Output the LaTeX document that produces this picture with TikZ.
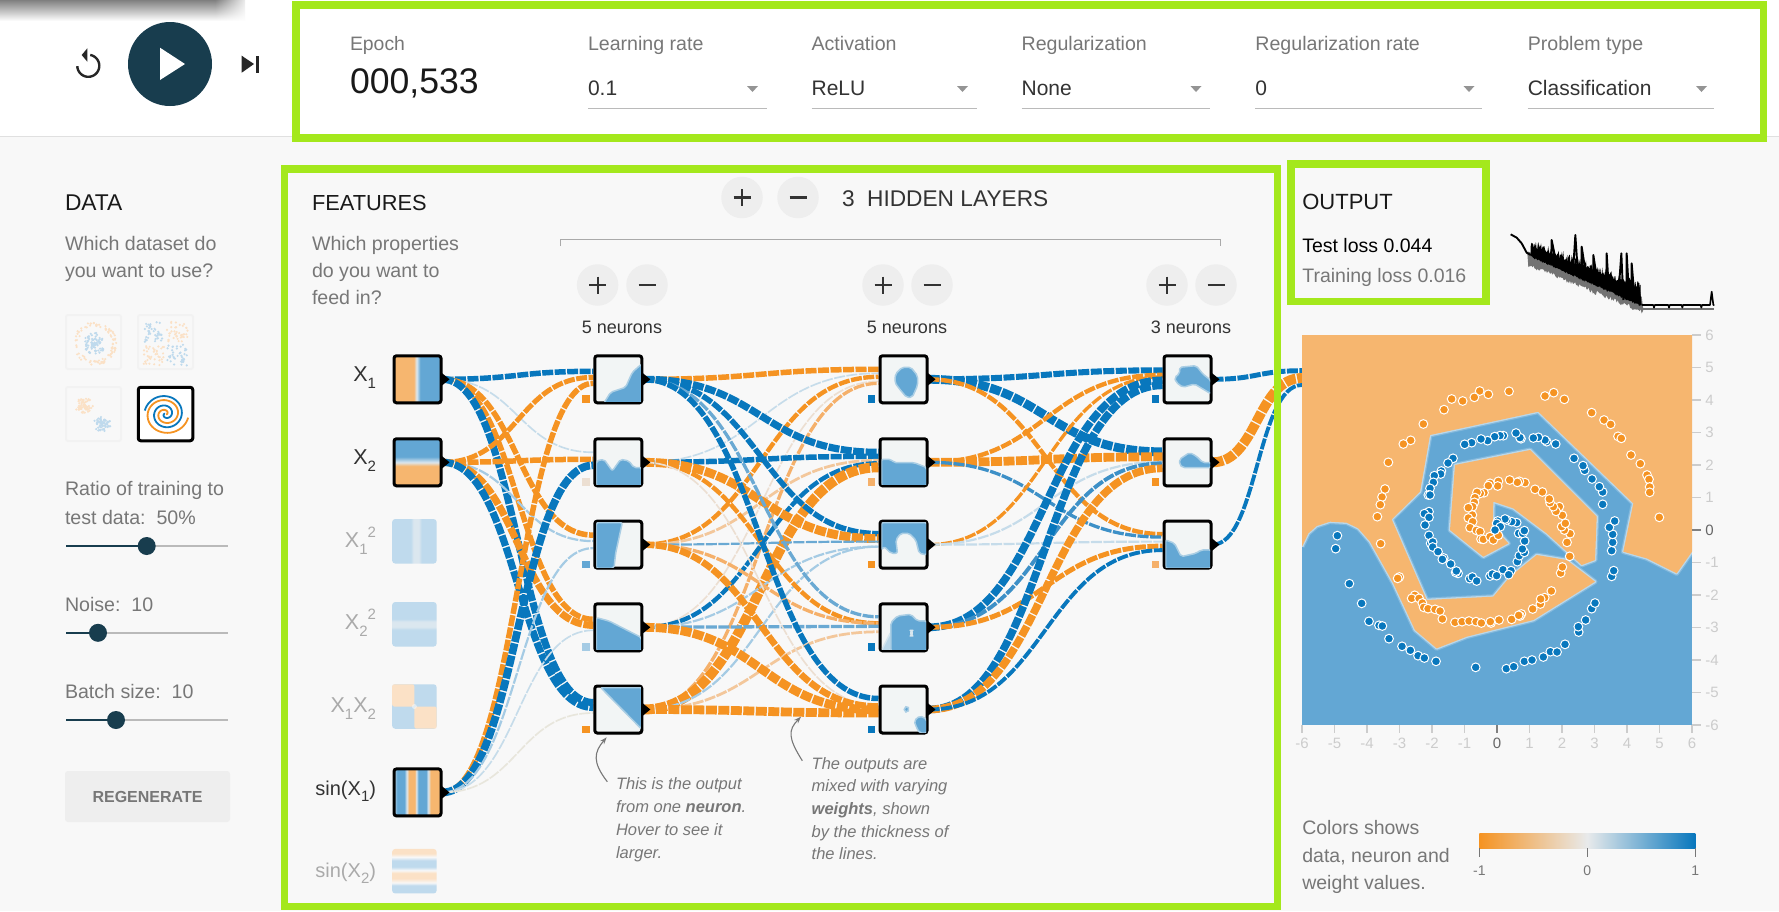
\documentclass[tikz,border=0pt]{standalone}
\usepackage{fontspec}
\setmainfont{Liberation Sans}
\usetikzlibrary{calc,arrows.meta,shadows,fadings}
\definecolor{cB}{HTML}{0877BD}
\definecolor{cO}{HTML}{F59322}
\definecolor{pB1}{HTML}{C6DCEA}
\definecolor{pB2}{HTML}{A5CBE4}
\definecolor{pB3}{HTML}{6AA9D3}
\definecolor{pB4}{HTML}{3D90C7}
\definecolor{pO1}{HTML}{ECDFD2}
\definecolor{pO2}{HTML}{F3C79B}
\definecolor{pO3}{HTML}{F5B06A}
\definecolor{pG}{HTML}{E8E6DC}
\definecolor{hblue}{HTML}{63A7D4}
\definecolor{horange}{HTML}{F6B66F}
\definecolor{nfill}{HTML}{F2F5F5}
\definecolor{lb}{HTML}{BFDAED}
\definecolor{lband}{HTML}{DBE7EF}
\definecolor{peach}{HTML}{FBE1C6}
\definecolor{tgray}{HTML}{777777}
\definecolor{tdark}{HTML}{333333}
\definecolor{tfaint}{HTML}{AAAAAA}
\definecolor{navy}{HTML}{183D4E}
\definecolor{lime}{HTML}{A4E81C}
\definecolor{page}{HTML}{F8F8F8}
\definecolor{btn}{HTML}{EEEEEE}
\definecolor{axisc}{HTML}{CCCCCC}
\definecolor{legmid}{HTML}{E8EAEB}
\pgfdeclarehorizontalshading{shXa}{100bp}{color(0bp)=(horange);color(25bp)=(horange);color(46bp)=(horange);color(49bp)=(lband);color(53bp)=(hblue);color(75bp)=(hblue);color(100bp)=(hblue)}
\pgfdeclareverticalshading{shXb}{100bp}{color(0bp)=(horange);color(25bp)=(horange);color(46bp)=(horange);color(50bp)=(lband);color(56bp)=(hblue);color(75bp)=(hblue);color(100bp)=(hblue)}
\pgfdeclarehorizontalshading{shXc}{100bp}{color(0bp)=(lb);color(25bp)=(lb);color(46bp)=(lb);color(49bp)=(lband);color(55bp)=(lband);color(58bp)=(lb);color(75bp)=(lb);color(100bp)=(lb)}
\pgfdeclareverticalshading{shXd}{100bp}{color(0bp)=(lb);color(25bp)=(lb);color(44bp)=(lb);color(47bp)=(lband);color(53bp)=(lband);color(56bp)=(lb);color(75bp)=(lb);color(100bp)=(lb)}
\pgfdeclarehorizontalshading{shSa}{100bp}{color(0bp)=(lb);color(25bp)=(lb);color(28.5bp)=(hblue);color(36bp)=(hblue);color(38.5bp)=(lband);color(41bp)=(horange);color(47bp)=(horange);color(48.8bp)=(lband);color(51bp)=(hblue);color(59bp)=(hblue);color(61.5bp)=(lband);color(64bp)=(horange);color(75bp)=(horange);color(100bp)=(horange)}
\pgfdeclareverticalshading{shSb}{100bp}{color(0bp)=(lb);color(25bp)=(lb);color(34bp)=(lb);color(37bp)=(page);color(42bp)=(peach);color(48bp)=(peach);color(51bp)=(page);color(55bp)=(lb);color(62bp)=(lb);color(66bp)=(page);color(70bp)=(peach);color(75bp)=(peach);color(100bp)=(peach)}
\pgfdeclarelayer{base}
\pgfdeclarelayer{links}
\pgfsetlayers{base,links,main}
\newcounter{tn}
\newcommand{\tx}[6]{\stepcounter{tn}\node[inner sep=0pt,outer sep=0pt,anchor=#1,text=#5,font=\fontsize{#4}{#4}\selectfont] (t\arabic{tn}) at (#2,{#3+0.36*#4}) {#6};}
\newcommand{\sbx}[1]{\raisebox{-.32em}{\fontsize{15}{15}\selectfont #1}}
\newcommand{\spx}[1]{\raisebox{.5em}{\fontsize{15}{15}\selectfont #1}}
\newcommand{\lnk}[5]{%
  \coordinate (A) at (#1.east);
  \coordinate (B) at ($(#2.west)+(0,#3)$);
  \draw[linkline,color=#4,line width={#5*1.1pt}] (#1.east) .. controls ($(A)!.5!(A-|B)$) and ($(B)!.5!(B-|A)$) .. (B);}
\newcommand{\heat}[3][hblue]{\begin{scope}[shift={($(#2.north west)+(3,3)$)},x=.33333pt,y=-.33333pt]
  \clip (0,0) rectangle (134,134);
  \fill[#1,draw=#1!50!nfill,line width=1.5pt,line join=round,rounded corners=2pt] #3 -- cycle;
  \end{scope}}
\newcommand{\outtip}[1]{\fill[black] ($(#1.east)+(-1.5,-7)$) -- ($(#1.east)+(7,0)$) -- ($(#1.east)+(-1.5,7)$) -- cycle;}
\newcommand{\biasq}[2]{\fill[#2] ($(#1.south west)+(-11,-9)$) rectangle ++(7.7,7.7);}
\newcommand{\dd}[5]{%
  \tx{base west}{#1}{43}{19.6}{tgray}{#4}
  \tx{base west}{#1}{88}{21}{tdark}{#5}
  \draw[ddline] (#1,108) -- (#2,108);
  \fill[ddtri] ({#3-5.5},86) -- ({#3+5.5},86) -- (#3,92) -- cycle;}
\newcommand{\roundbtn}[3]{\node[roundb] (#3) at (#1,#2) {};}
\newcommand{\plusb}[3]{\roundbtn{#1}{#2}{#3}\draw[glyph] ({#1-8.5},#2) -- ({#1+8.5},#2) (#1,{#2-8.5}) -- (#1,{#2+8.5});}
\newcommand{\minusb}[3]{\roundbtn{#1}{#2}{#3}\draw[glyph] ({#1-8.5},#2) -- ({#1+8.5},#2);}
\newcommand{\slider}[4]{\draw[line width=2.5pt,color=black!27] (66,#1) -- (228,#1);
  \draw[line width=2.5pt,color=navy] (66,#1) -- (#2,#1);
  \node[knob] (#4) at (#2,#1) {};}
\tikzset{
  linkline/.style={dash pattern=on 11pt off 1.5pt},
  ddline/.style={color=black!27,line width=1pt},
  ddtri/.style={fill=black!42},
  roundb/.style={circle,fill=btn,minimum size=41.5pt,inner sep=0pt},
  glyph/.style={line width=2.2pt,color=tdark},
  knob/.style={circle,fill=navy,minimum size=18pt,inner sep=0pt},
  greenbox/.style={draw=lime,line width=7.6pt},
  nbox/.style={rectangle,draw=black,line width=3pt,rounded corners=2.5pt,minimum size=47pt,inner sep=0pt,outer sep=1.5pt,fill=nfill,drop shadow={opacity=.18,shadow xshift=0pt,shadow yshift=-2pt}},
  fbox/.style={rectangle,rounded corners=3pt,minimum size=44.5pt,inner sep=0pt,outer sep=0pt},
  thumb/.style={rectangle,draw=black!5,line width=2pt,rounded corners=2pt,minimum width=55pt,minimum height=54pt,inner sep=0pt,fill=page},
  dotO/.style={fill=cO,draw=white,line width=1pt},
  dotB/.style={fill=cB,draw=white,line width=1pt},
  noteline/.style={color=tgray,line width=1.1pt,-{Stealth[length=7pt,width=5pt]}},
}
\begin{document}
\begin{tikzpicture}[x=1pt,y=-1pt]
\useasboundingbox (0,0) rectangle (1779,911);
\begin{pgfonlayer}{base}
\fill[page] (0,0) rectangle (1779,911);
\fill[white] (0,0) rectangle (1779,136);
\draw[color=black!12,line width=1pt] (0,136.5) -- (1779,136.5);
\shade[top color=black!50,bottom color=white] (0,0) rectangle (245,21);
\fill[white,path fading=west] (215,0) rectangle (250,24);
\end{pgfonlayer}

% top controls
\draw[line width=2.4pt,color=black!85] plot[domain=80:-178,samples=40] ({88.3+11*cos(\x)},{65.8-11*sin(\x)});
\fill[black!85] (87.3,48.3) -- (87.3,61.7) -- (81.7,55) -- cycle;
\node[circle,fill=navy,minimum size=84pt,inner sep=0pt] (play) at (170,64) {};
\fill[white] (160,47.7) -- (160,80) -- (185,64) -- cycle;
\fill[black!85] (241.7,55.7) -- (241.7,72.7) -- (254,64) -- cycle;
\fill[black!85] (256,55.7) rectangle (259.3,72.7);

\tx{base west}{350}{43.5}{19.4}{tgray}{Epoch}
\tx{base west}{350}{81}{35.6}{black!90}{000,533}
\dd{588}{767}{752.5}{Learning rate}{0.1}
\dd{811.6}{977}{962.5}{Activation}{ReLU}
\dd{1021.6}{1210}{1196}{Regularization}{None}
\dd{1255.4}{1482.4}{1469}{Regularization rate}{0}
\dd{1527.8}{1714}{1701.5}{Problem type}{Classification}

% data column
\tx{base west}{65}{202.5}{22.8}{black!90}{DATA}
\tx{base west}{65}{243}{19.6}{tgray}{Which dataset do}
\tx{base west}{65}{270}{19.6}{tgray}{you want to use?}
\node[thumb] (d1) at (93.5,342) {};
\node[thumb] (d2) at (165.5,342) {};
\node[thumb] (d3) at (93.5,414) {};
\node[rectangle,draw=black,line width=3pt,rounded corners=2.5pt,minimum width=54.5pt,minimum height=53.5pt,fill=white,inner sep=0pt] (d4) at (165.5,414) {};
\pgfmathsetseed{7}
\foreach \i in {1,...,90}{\pgfmathsetmacro{\ang}{rand*180}\pgfmathsetmacro{\rr}{17+4.5*rnd}
  \fill[peach] ({95+\rr*cos(\ang)},{343.5+\rr*sin(\ang)}) circle[radius=1.2pt];}
\foreach \i in {1,...,90}{\pgfmathsetmacro{\ang}{rand*180}\pgfmathsetmacro{\rr}{11*rnd}
  \fill[lb] ({95+\rr*cos(\ang)},{343.5+\rr*sin(\ang)}) circle[radius=1.2pt];}
\foreach \cx/\cy/\col in {154/332/lb,177/332/peach,154/355/peach,177/355/lb}{
  \foreach \i in {1,...,40}{\pgfmathsetmacro{\dx}{rand*10.5}\pgfmathsetmacro{\dy}{rand*10.5}
  \fill[\col] ({\cx+\dx},{\cy+\dy}) circle[radius=1.2pt];}}
\foreach \cx/\cy/\col in {84.3/406/peach,102/424/lb}{
  \foreach \i in {1,...,70}{\pgfmathsetmacro{\ang}{rand*180}\pgfmathsetmacro{\rr}{8*rnd}
  \fill[\col] ({\cx+1.1*\rr*cos(\ang)},{\cy+\rr*sin(\ang)}) circle[radius=1.2pt];}}
\draw[cB,line width=1.8pt] plot[domain=20:760,samples=90,smooth] ({165.5+\x/760*21*cos(170-760+\x)},{414-\x/760*20*sin(170-760+\x)});
\draw[cO,line width=1.8pt] plot[domain=20:760,samples=90,smooth] ({165.5+\x/760*23*cos(350-760+\x)},{414-\x/760*21*sin(350-760+\x)});

\tx{base west}{65}{488}{19.6}{tgray}{Ratio of training to}
\tx{base west}{65}{517.5}{19.6}{tgray}{test data:\ \ 50\%}
\slider{546}{146.7}{}{s1}
\tx{base west}{65}{604}{19.6}{tgray}{Noise:\ \ 10}
\slider{632.8}{98}{}{s2}
\tx{base west}{65}{691.6}{19.6}{tgray}{Batch size:\ \ 10}
\slider{720}{116}{}{s3}
\node[rectangle,fill=btn,rounded corners=3pt,minimum width=165pt,minimum height=51pt,inner sep=0pt] (regen) at (147.5,796.5) {};
\tx{base}{147.5}{797}{16}{tgray}{\bfseries REGENERATE}

% features header
\tx{base west}{312}{202.5}{21.8}{black!90}{FEATURES}
\tx{base west}{312}{243}{19.6}{tgray}{Which properties}
\tx{base west}{312}{270}{19.6}{tgray}{do you want to}
\tx{base west}{312}{297}{19.6}{tgray}{feed in?}
\plusb{742}{197.5}{gp}
\minusb{798}{197.5}{gm}
\tx{base west}{842}{198.5}{22.7}{tdark}{3\hspace{.55em}HIDDEN LAYERS}
\draw[color=tfaint,line width=1pt] (560.7,246) -- (560.7,239.5) -- (1220,239.5) -- (1220,246);
\plusb{597.6}{285}{p1}\minusb{647}{285}{m1}
\plusb{883}{285}{p2}\minusb{932}{285}{m2}
\plusb{1167}{285}{p3}\minusb{1216}{285}{m3}
\tx{base}{622}{327}{18}{tdark}{5 neurons}
\tx{base}{907}{327}{18}{tdark}{5 neurons}
\tx{base}{1191}{327}{18}{tdark}{3 neurons}

% feature nodes
\node[nbox,shade,shading=shXa] (fa) at (417.5,379.3) {};
\node[nbox,shade,shading=shXb] (fb) at (417.5,462.3) {};
\node[fbox,shade,shading=shXc] (fc) at (414.4,541.3) {};
\node[fbox,shade,shading=shXd] (fd) at (414.4,624.3) {};
\node[fbox,fill=lb] (fx) at (414.4,706.5) {};
\fill[peach,rounded corners=2pt] (392.2,684.3) rectangle (414.4,706.5);
\fill[peach,rounded corners=2pt] (414.4,706.5) rectangle (436.6,728.7);
\fill[page,opacity=.6] (414.4,706.5) circle[radius=2.5pt];
\node[nbox,shade,shading=shSa] (fe) at (417.5,792.4) {};
\node[fbox,shade,shading=shSb] (ff) at (414.4,871.2) {};
\outtip{fa}\outtip{fb}\outtip{fe}
\tx{base east}{376}{374}{21.5}{tdark}{X\sbx{1}}
\tx{base east}{376}{457}{21.5}{tdark}{X\sbx{2}}
\tx{base east}{376}{540}{21.5}{tfaint}{X\sbx{1}\spx{2}}
\tx{base east}{376}{622}{21.5}{tfaint}{X\sbx{2}\spx{2}}
\tx{base east}{376}{704.5}{21.5}{tfaint}{X\sbx{1}X\sbx{2}}
\tx{base east}{376}{788}{20}{tdark}{sin(X\sbx{1})}
\tx{base east}{376}{870}{20}{tfaint}{sin(X\sbx{2})}

% hidden layers
\foreach \n/\y in {h11/379.3,h12/462.3,h13/544.6,h14/627.3,h15/709.5}{\node[nbox] (\n) at (618.3,\y) {};\outtip{\n}}
\foreach \n/\y in {h21/379.3,h22/462.3,h23/544.6,h24/627.3,h25/709.5}{\node[nbox] (\n) at (903.5,\y) {};\outtip{\n}}
\foreach \n/\y in {h31/379.3,h32/462.3,h33/544.6}{\node[nbox] (\n) at (1187.5,\y) {};\outtip{\n}}

\biasq{h11}{cO}\biasq{h12}{pO1}\biasq{h13}{hblue}\biasq{h14}{pB2}\biasq{h15}{cO}
\biasq{h21}{cB}\biasq{h22}{pO3}\biasq{h23}{cO}\biasq{h24}{cB}\biasq{h25}{cB}
\biasq{h31}{cB}\biasq{h32}{cO}\biasq{h33}{pO3}

\heat{h11}{(23,137)--(43,105)--(88,90)--(108,45)--(136,20)--(136,137)}
\heat{h12}{(0,62)--(23,57)--(48,92)--(73,57)--(98,62)--(113,82)--(136,82)--(136,137)--(0,137)}
\heat{h13}{(0,0)--(78,0)--(58,92)--(53,137)--(0,137)}
\heat{h14}{(0,37)--(38,47)--(136,97)--(136,137)--(0,137)}
\heat{h15}{(13,0)--(136,0)--(136,125)}
\heat{h21}{(62,30)--(88,30)--(108,55)--(108,85)--(92,120)--(75,120)--(50,90)--(40,75)--(42,50)}
\heat{h22}{(0,57)--(28,57)--(38,67)--(98,67)--(136,82)--(136,137)--(0,137)}
\heat{h23}{(0,0)--(136,0)--(136,97)--(113,92)--(103,52)--(83,32)--(58,32)--(43,52)--(48,92)--(28,92)--(8,72)--(0,82)}
\heat[hblue!40!nfill]{h24}{(0,137)--(28,137)--(28,80)--(5,125)}
\heat{h24}{(28,137)--(28,52)--(48,32)--(88,27)--(108,47)--(136,47)--(136,137)}
\heat[hblue!35!nfill]{h24}{(88,75)--(92,75)--(92,92)--(88,92)}
\heat{h25}{(68,60)--(78,55)--(84,65)--(78,75)--(68,72)}
\heat{h25}{(98,100)--(115,85)--(136,95)--(136,137)--(115,137)--(105,120)}
\heat{h31}{(42,30)--(92,25)--(112,50)--(137,70)--(137,110)--(112,95)--(87,80)--(52,90)--(32,75)--(27,60)--(42,50)}
\heat{h32}{(42,57)--(72,37)--(92,47)--(112,67)--(137,67)--(137,82)--(52,82)--(42,72)}
\heat{h33}{(0,52)--(27,62)--(47,102)--(92,92)--(107,82)--(137,82)--(137,137)--(0,137)}

% output map
\node[rectangle,fill=hblue,minimum size=390pt,inner sep=0pt,outer sep=0pt] (out) at (1497,530) {};
\begin{scope}[shift={(1280,320)},x=.33333pt,y=-.33333pt]
\def\outerpath{(1236,695)--(1190,760)--(1100,715)--(1030,695)--(1060,550)--(775,275)--(450,345)--(420,515)--(335,598)--(440,840)--(640,830)--(690,770)--(770,705)--(860,720)--(945,785)--(760,900)--(560,950)--(470,985)--(405,930)--(340,790)--(270,665)--(235,625)--(200,608)--(150,605)--(110,618)--(85,640)--(66,680)}
\def\innerpath{(525,435)--(750,390)--(950,590)--(945,720)--(905,735)--(800,640)--(700,565)--(640,545)--(638,620)--(685,670)--(610,710)--(510,630)--cycle}
\begin{scope}
\clip (66,45) rectangle (1236,1215);
\draw[white,opacity=.2,line width=5pt,line join=round] \outerpath;
\draw[white,opacity=.45,line width=2.6pt,line join=round] \outerpath;
\fill[horange] (66,45)--(1236,45)--\outerpath--cycle;
\draw[white,opacity=.2,line width=5pt,line join=round] \innerpath;
\draw[white,opacity=.45,line width=2.6pt,line join=round] \innerpath;
\fill[horange] \innerpath;
\end{scope}
\foreach \p in {(687,214),(599,213),(625,223),(583,232),(548,243),(515,237),(492,269),(430,312),(392,361),(370,372),(325,427),(315,507),(306,531),(301,554),(292,590),(302,671),(358,771),(353,775),(404,826),(395,835),(417,835),(427,849),(431,862),(444,866),(465,868),(480,873),(487,897),(525,907),(546,905),(567,903),(588,905),(604,909),(633,909),(631,905),(657,900),(695,898),(724,882),(720,888),(716,886),(758,867),(781,852),(794,833),(782,837),(814,813),(842,759),(847,741),(869,709),(861,667),(870,641),(853,630),(845,620),(856,610),(847,586),(838,560),(828,574),(820,560),(810,548),(808,537),(787,516),(765,508),(735,488),(718,484),(712,487),(689,480),(655,484),(653,498),(630,490),(625,497),(612,518),(601,520),(591,517),(585,533),(583,547),(578,560),(565,563),(577,585),(565,594),(578,605),(570,623),(589,631),(600,635),(603,657),(610,658),(630,650),(640,660),(655,646),(795,228),(821,218),(853,238),(935,278),(972,300),(992,313),(1014,349),(1024,355),(1053,405),(1081,431),(1101,465),(1107,478),(1109,501),(1109,517),(1138,592)}
  {\path[dotO] \p circle[radius=4.4pt];}
\foreach \p in {(172,647),(167,686),(208,791),(245,850),(267,904),(297,916),(307,918),(327,956),(366,979),(391,991),(414,1007),(433,1014),(468,1024),(587,1042),(679,1046),(701,1040),(733,1024),(756,1020),(790,1011),(811,995),(831,996),(855,973),(896,936),(895,920),(917,900),(935,866),(945,849),(995,769),(1001,752),(995,692),(998,667),(998,643),(988,622),(1004,603),(968,553),(968,516),(958,500),(936,477),(914,451),(909,437),(882,415),(827,372),(800,365),(795,360),(775,352),(760,354),(723,356),(720,353),(708,339),(670,347),(660,347),(644,350),(623,362),(603,357),(575,368),(554,373),(519,415),(504,429),(484,453),(482,462),(463,467),(460,487),(450,505),(445,525),(450,525),(447,575),(433,581),(447,592),(435,615),(447,646),(452,670),(458,666),(458,681),(474,695),(491,714),(487,718),(512,732),(534,760),(527,757),(529,753),(569,776),(577,771),(590,783),(630,768),(637,762),(650,767),(669,749),(693,752),(686,764),(712,725),(718,707),(733,697),(727,687),(734,663),(716,640),(728,640),(733,632),(710,608),(695,605),(680,600),(675,597),(653,603),(650,610),(661,620),(645,630)}
  {\path[dotB] \p circle[radius=4.4pt];}
\end{scope}
% axes
\foreach \i in {-6,...,6}{
  \pgfmathsetmacro{\px}{1497+32.5*\i}\pgfmathsetmacro{\py}{530-32.5*\i}
  \ifnum\i=0
    \draw[color=black!50,line width=1.2pt] (\px,725) -- (\px,733);
    \draw[color=black!50,line width=1.2pt] (1692,\py) -- (1701,\py);
    \tx{base}{\px}{743}{15}{black!60}{\i}
    \tx{base west}{1705.3}{\py}{15}{black!60}{\i}
  \else
    \draw[color=axisc,line width=1.2pt] (\px,725) -- (\px,733);
    \draw[color=axisc,line width=1.2pt] (1692,\py) -- (1701,\py);
    \tx{base}{\px}{743}{15}{axisc}{\i}
    \tx{base west}{1705.3}{\py}{15}{axisc}{\i}
  \fi
}
% output text
\tx{base west}{1302.3}{201.7}{22}{black!90}{OUTPUT}
\tx{base west}{1302.3}{245}{19.5}{black}{Test loss 0.044}
\tx{base west}{1302.3}{275}{19.5}{tgray}{Training loss 0.016}
% loss chart
\begin{scope}[shift={(1280,140)},x=.33333pt,y=-.33333pt]
\pgfmathsetseed{11}
\fill[black!55] (742,340) -- plot[domain=745:1085,samples=110] (\x,{368+0.41*(\x-745)+14*rnd}) -- (1090,510) -- (1085,470) -- (745,335) -- cycle;
\draw[color=black!55,line width=2.6pt] (1085,507) -- (1303,507);
\fill[black] (752,340) -- plot[domain=752:1082,samples=170] (\x,{347+0.445*(\x-752)+6*rnd}) -- (1082,497) -- plot[domain=1082:752,samples=170] (\x,{322+0.40*(\x-752)-28*rnd}) -- cycle;
\draw[black,line width=1.9pt,line join=round] (692,283)--(710,293)--(725,310)--(740,338)--(752,345);
\draw[black,line width=1.9pt,line join=round] (815,345)--(815,300)--(825,350) (880,380)--(886,285)--(892,375) (905,385)--(905,320)--(915,385) (940,410)--(940,345)--(950,410) (980,430)--(980,340)--(986,440) (1015,465)--(1024,340)--(1030,480) (1040,480)--(1040,340)--(1048,480) (1055,480)--(1055,370)--(1065,490) (1075,490)--(1075,430)--(1082,495);
\draw[black,line width=1.6pt,line join=round] (1085,495)--(1120,495)--(1122,503)--(1124,495)--(1165,495)--(1167,503)--(1169,495)--(1205,495)--(1207,503)--(1209,495)--(1262,495)--(1264,503)--(1266,495)--(1290,495)--(1295,455)--(1300,495)--(1303,495);
\end{scope}
% legend
\tx{base west}{1302.3}{827.7}{19.5}{tgray}{Colors shows}
\tx{base west}{1302.3}{855}{19.5}{tgray}{data, neuron and}
\tx{base west}{1302.3}{882.3}{19.5}{tgray}{weight values.}
\shade[left color=cO,right color=cB,middle color=legmid] (1479.3,833) rectangle (1695.3,848);
\foreach \lx/\lt in {1479.3/-1,1587.3/0,1695.3/1}{
  \draw[color=tgray,line width=1pt] (\lx,848) -- (\lx,856.7);
  \tx{base}{\lx}{870.7}{14}{tgray}{\lt}}
% notes
\tx{base west}{616}{784}{16.5}{tgray}{\itshape This is the output}
\tx{base west}{616}{806.7}{16.5}{tgray}{\itshape from one \bfseries neuron\mdseries.}
\tx{base west}{616}{829.3}{16.5}{tgray}{\itshape Hover to see it}
\tx{base west}{616}{852.7}{16.5}{tgray}{\itshape larger.}
\tx{base west}{811.7}{763.3}{16.5}{tgray}{\itshape The outputs are}
\tx{base west}{811.7}{785.7}{16.5}{tgray}{\itshape mixed with varying}
\tx{base west}{811.7}{808.7}{16.5}{tgray}{\itshape \bfseries weights\mdseries, shown}
\tx{base west}{811.7}{831.3}{16.5}{tgray}{\itshape by the thickness of}
\tx{base west}{811.7}{854}{16.5}{tgray}{\itshape the lines.}
\coordinate (n1a) at (607.3,781.7);
\coordinate (n1b) at (606.7,737.3);
\coordinate (n2a) at (802.3,760.7);
\coordinate (n2b) at (801,716.7);
\draw[noteline] (n1a) .. controls (592,762) and (594,752) .. (n1b);
\draw[noteline] (n2a) .. controls (788,738) and (788,730) .. (n2b);

% links
\begin{pgfonlayer}{links}
\lnk{fa}{h11}{-8}{cB}{5}
\lnk{fa}{h12}{-10}{pB1}{1.5}
\lnk{fa}{h13}{-9.5}{cO}{5}
\lnk{fa}{h14}{-8}{cO}{5}
\lnk{fa}{h15}{-7}{cB}{6.5}
\lnk{fb}{h11}{-2}{cO}{4.5}
\lnk{fb}{h12}{-3}{cO}{5}
\lnk{fb}{h13}{-3.5}{pB2}{2}
\lnk{fb}{h14}{-2}{cO}{6.5}
\lnk{fb}{h15}{-2}{cB}{6.5}
\lnk{fe}{h11}{4}{cO}{5}
\lnk{fe}{h12}{3}{cB}{7}
\lnk{fe}{h13}{3.5}{pB2}{2}
\lnk{fe}{h14}{3}{pB1}{1.5}
\lnk{fe}{h15}{3.5}{pG}{1.5}
\lnk{h11}{h21}{-10}{cO}{5}
\lnk{h12}{h21}{-6}{pB1}{1.5}
\lnk{h13}{h21}{-2.5}{cO}{4}
\lnk{h14}{h21}{2}{pO1}{1.5}
\lnk{h15}{h21}{4}{pO3}{3}
\lnk{h11}{h22}{-10}{cB}{6.5}
\lnk{h12}{h22}{-6}{cB}{5}
\lnk{h13}{h22}{-2}{pO2}{2.5}
\lnk{h14}{h22}{1}{cB}{4}
\lnk{h15}{h22}{5}{cO}{9}
\lnk{h11}{h23}{-11}{cB}{5}
\lnk{h12}{h23}{-6}{cO}{8}
\lnk{h13}{h23}{-3}{pB3}{2}
\lnk{h14}{h23}{2}{pB2}{2}
\lnk{h15}{h23}{2}{pB2}{2}
\lnk{h11}{h24}{-10.5}{pB3}{3}
\lnk{h12}{h24}{-4}{cO}{4}
\lnk{h13}{h24}{-4}{pO3}{3}
\lnk{h14}{h24}{-1}{pB3}{3}
\lnk{h15}{h24}{4.5}{pO2}{2.5}
\lnk{h11}{h25}{-11}{cB}{5}
\lnk{h12}{h25}{-4}{pO1}{1.5}
\lnk{h13}{h25}{-3}{cO}{6}
\lnk{h14}{h25}{0.5}{cO}{8}
\lnk{h15}{h25}{3.5}{cO}{8}
\lnk{h21}{h31}{-9}{cB}{5.5}
\lnk{h21}{h32}{-10.5}{cB}{8}
\lnk{h21}{h33}{-10.5}{cO}{4}
\lnk{h22}{h31}{-4.5}{cO}{4}
\lnk{h22}{h32}{-5.5}{cO}{8}
\lnk{h22}{h33}{-7.5}{pB4}{3}
\lnk{h23}{h31}{-2.5}{cO}{3}
\lnk{h23}{h32}{-0.5}{pB1}{2}
\lnk{h23}{h33}{-3}{pB1}{2}
\lnk{h24}{h31}{1}{cB}{7}
\lnk{h24}{h32}{1}{pB4}{3.5}
\lnk{h24}{h33}{1.5}{cO}{4.5}
\lnk{h25}{h31}{6}{cB}{7}
\lnk{h25}{h32}{6}{cO}{7}
\lnk{h25}{h33}{5.5}{cB}{3.5}
\lnk{h31}{out}{-159.3}{cB}{4.5}
\lnk{h32}{out}{-152}{cO}{9}
\lnk{h33}{out}{-145}{cB}{3.5}
\end{pgfonlayer}

% green frames
\draw[greenbox] (296,5) rectangle (1763.5,138);
\draw[greenbox] (284.5,169) rectangle (1277.5,906.5);
\draw[greenbox] (1291,164) rectangle (1486,301.6);
\end{tikzpicture}
\end{document}
